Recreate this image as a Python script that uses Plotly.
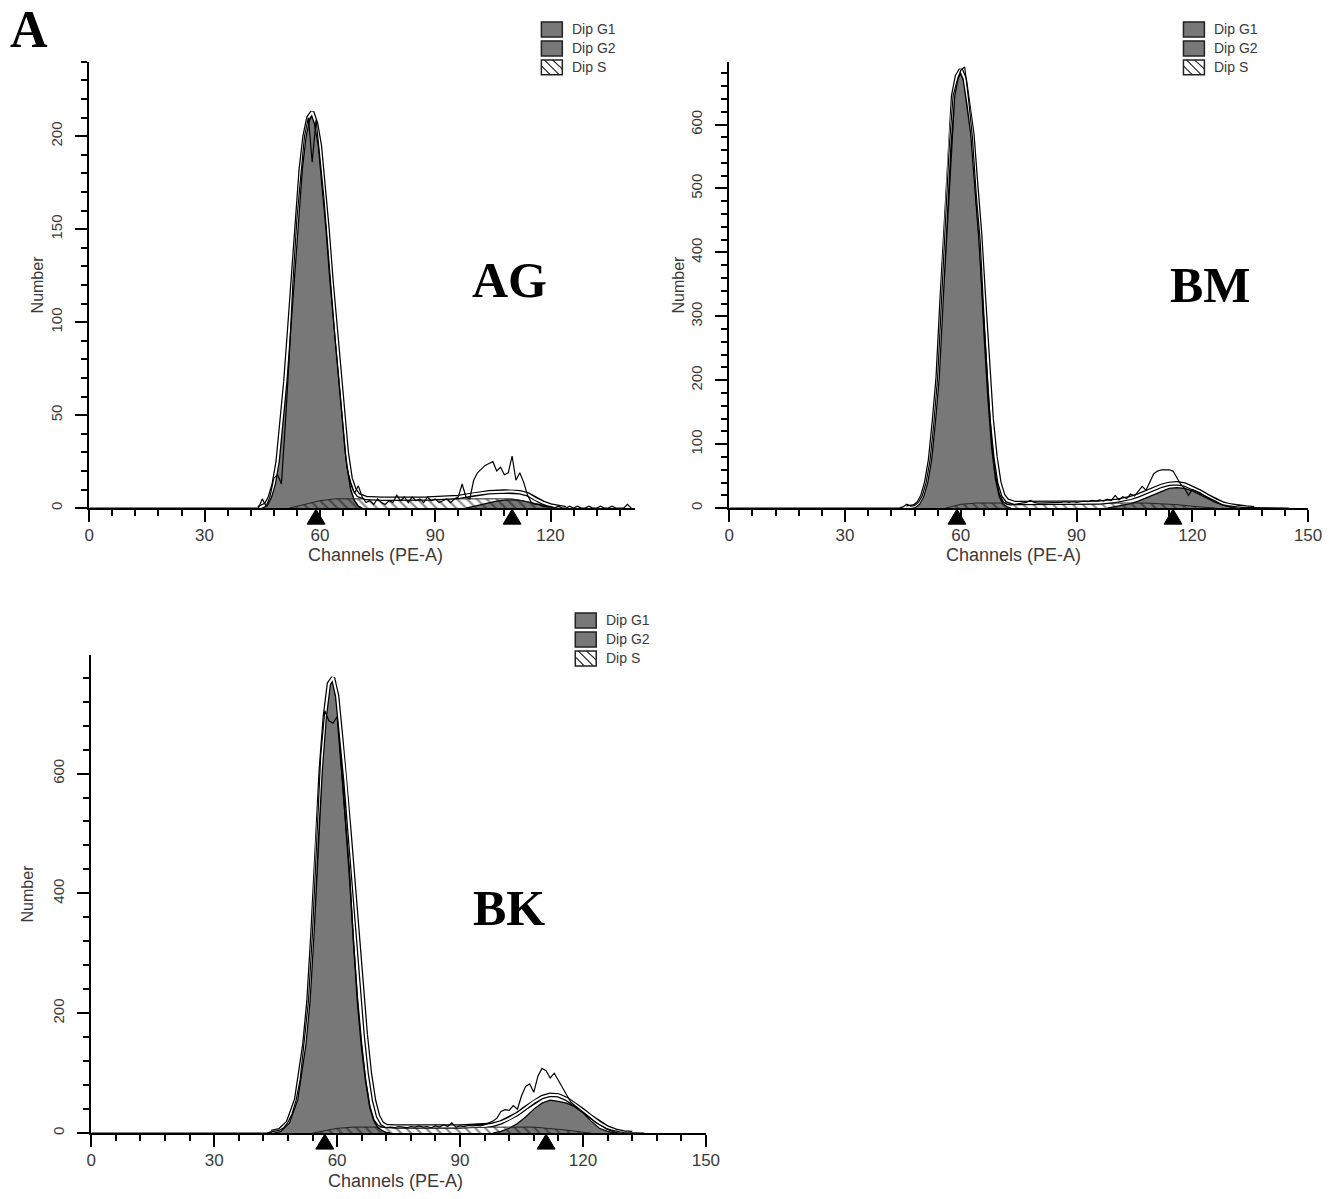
import plotly.graph_objects as go

W, H = 1341, 1199

# ---------------- data ----------------
# AG panel
ag_raw_ch = [0] + list(range(43, 142))
ag_raw = [0,
          0, 0, 5, 1, 6, 16, 18, 13, 45, 80,
          122, 155, 178, 200, 210, 186, 209, 190, 168, 142,
          115, 90, 68, 45, 22, 14, 8, 12, 6, 3,
          4, 2, 5, 3, 2, 4, 3, 7, 4, 6,
          3, 6, 4, 5, 3, 6, 4, 5, 3, 4,
          5, 3, 5, 6, 13, 6, 5, 15, 19, 21,
          23, 24, 25, 20, 22, 18, 19, 28, 15, 19,
          14, 7, 3, 2, 2, 1, 1, 1, 0, 1,
          0, 0, 1, 0, 1, 0, 0, 1, 0, 0,
          1, 0, 0, 1, 0, 0, 0, 2, 0]
ag_g1_ch = list(range(45, 72))
ag_g1 = [0, 2, 6, 13, 25, 45, 68, 95, 125, 155, 180, 198, 208, 211, 205, 192,
         170, 145, 118, 94, 70, 46, 24, 10, 4, 1, 0]
ag_g2_ch = [98, 100, 102, 104, 106, 108, 110, 112, 114, 116, 118, 120, 122]
ag_g2 = [0, 1, 2, 3, 3.8, 4.3, 4.5, 4.2, 3.5, 2.5, 1.5, 0.7, 0]
ag_s_ch = [52, 56, 60, 64, 110, 114, 118, 120]
ag_s = [0, 2, 4, 5, 5, 3.5, 1, 0]
ag_fit_ch = [44, 46] + list(range(47, 71)) + [72, 76, 88, 96, 100, 104, 108, 110,
                                               112, 114, 116, 118, 120, 122, 124]
ag_fit = [0, 2,
          6, 13, 25, 45, 68, 96, 126, 157, 182, 200, 210, 213, 207, 195, 174, 150,
          123, 99, 76, 52, 30, 16, 10, 7,
          5.5, 5, 5.2, 6, 7.5, 8.5, 9, 9, 8.5, 7.5, 5, 3, 1.5, 0.7, 0]
ag_peaks = [59, 110]

# BM panel
bm_raw_ch = [0] + list(range(44, 146))
bm_raw = [0,
          0, 2, 6, 3, 4, 9, 19, 40, 74, 132,
          205, 325, 435, 565, 645, 668, 685, 690, 640, 580,
          490, 420, 300, 190, 105, 52, 22, 10, 6, 5,
          6, 7, 8, 9, 12, 9, 8, 8, 9, 8,
          9, 8, 9, 10, 9, 10, 9, 10, 11, 10,
          12, 11, 13, 11, 14, 12, 20, 13, 18, 15,
          22, 19, 26, 34, 28, 42, 54, 58, 60, 60,
          60, 58, 48, 37, 31, 20, 29, 27, 24, 20,
          17, 13, 10, 7, 5, 4, 3, 2, 2, 1,
          1, 1, 0, 1, 0, 1, 0, 1, 0, 1,
          0, 0]
bm_g1_ch = list(range(47, 74))
bm_g1 = [0, 3, 8, 18, 38, 72, 130, 200, 320, 430, 560, 640, 670, 680, 665, 625,
         570, 480, 400, 275, 175, 95, 45, 18, 6, 2, 0]
bm_g2_ch = list(range(98, 136, 2))
bm_g2 = [0, 2, 4, 7, 11, 16, 22, 27, 31, 32, 31, 27, 21, 15, 9, 5, 2, 1, 0]
bm_s_ch = [56, 58, 60, 62, 64, 108, 112, 116, 120, 124, 126]
bm_s = [0, 3, 6, 7, 8, 8, 7, 5.5, 3, 1, 0]
bm_fit_ch = [46, 48] + list(range(49, 73)) + [74, 90, 96] + list(range(100, 138, 2))
bm_fit = [1, 3,
          8, 19, 40, 75, 135, 205, 325, 435, 565, 645, 676, 686, 672, 632, 585, 505,
          430, 330, 230, 140, 80, 40, 20, 12,
          8, 8.5, 9,
          11, 13, 16, 20, 25, 30, 35, 38, 39, 37, 32, 26, 19, 12, 7, 4, 2, 1, 0]
bm_peaks = [59, 115]

# BK panel
bk_raw_ch = [0] + list(range(43, 136))
bk_raw = [0,
          0, 2, 3, 5, 9, 18, 32, 55, 90, 150,
          220, 335, 480, 630, 705, 688, 684, 695, 610, 525,
          440, 320, 225, 150, 88, 45, 22, 13, 10, 9,
          10, 9, 11, 10, 9, 11, 10, 12, 10, 11,
          9, 12, 10, 14, 11, 17, 10, 12, 11, 13,
          12, 13, 12, 14, 17, 20, 25, 36, 39, 38,
          46, 40, 62, 78, 82, 68, 95, 108, 104, 92,
          100, 88, 75, 62, 52, 46, 41, 36, 30, 24,
          18, 14, 10, 7, 5, 3, 2, 1, 1, 0,
          0, 0, 0]
bk_g1_ch = list(range(43, 74))
bk_g1 = [0, 1, 3, 5, 9, 18, 32, 55, 90, 145, 215, 330, 480, 600, 690, 745, 755,
         715, 620, 530, 430, 320, 215, 140, 85, 42, 20, 9, 4, 1, 0]
bk_g2_ch = list(range(98, 130, 2))
bk_g2 = [0, 3, 8, 16, 27, 40, 50, 55, 53, 50, 44, 34, 20, 8, 3, 0]
bk_s_ch = [54, 56, 58, 60, 62, 64, 108, 112, 116, 120, 122]
bk_s = [0, 3, 6, 8, 9, 10, 10, 8, 5, 1.5, 0]
bk_fit_ch = [44, 46, 48, 50, 52] + list(range(53, 73)) + [74, 90, 96] + list(range(98, 134, 2))
bk_fit = [2, 5, 18, 56, 148,
          220, 335, 485, 605, 695, 750, 760, 730, 660, 590, 505, 420, 330, 245,
          165, 100, 55, 28, 16, 12,
          11, 11, 12,
          14, 18, 24, 32, 42, 52, 60, 64, 63, 57, 48, 38, 27, 17, 9, 4, 1, 0]
bk_peaks = [57, 111]

legend_labels = ["Dip G1", "Dip G2", "Dip S"]

# ---------------- styling / layout ----------------
GRAY = "#787878"
SANS = "Liberation Sans, Arial, sans-serif"
XTICKFONT = dict(family=SANS, size=17, color="#3a3a3a")
YTICKFONT = dict(family=SANS, size=15, color="#3a3a3a")
CHANFONT = dict(family=SANS, size=18, color="#3a3a3a")
NUMFONT = dict(family=SANS, size=16, color="#3a3a3a")
SERIF = dict(family="Liberation Serif, Times New Roman, serif", size=50, color="black")

# horizontal calibration of the rendered page (observed slight horizontal squeeze)
X_OFF, X_SCALE = 4.0, 0.9888


def pxx(x):
    return ((x - X_OFF) / X_SCALE) / W


def pyy(y):
    return 1 - y / H


panels = [
    dict(name="AG", xa="x", ya="y", raw=(ag_raw_ch, ag_raw), g1=(ag_g1_ch, ag_g1),
         g2=(ag_g2_ch, ag_g2), s=(ag_s_ch, ag_s), fit=(ag_fit_ch, ag_fit), peaks=ag_peaks,
         xdom=(88.5, 636), ydom=(509, 62), xr=[0, 142], yr=[0, 240], ydt=50, ymin=10,
         label=(510, 280), num=(37, 285), chan=(376, 556), leg=(542, 22)),
    dict(name="BM", xa="x2", ya="y2", raw=(bm_raw_ch, bm_raw), g1=(bm_g1_ch, bm_g1),
         g2=(bm_g2_ch, bm_g2), s=(bm_s_ch, bm_s), fit=(bm_fit_ch, bm_fit), peaks=bm_peaks,
         xdom=(730.5, 1311), ydom=(509, 62), xr=[0, 150], yr=[0, 698], ydt=100, ymin=20,
         label=(1213, 285), num=(680, 285), chan=(1016, 556), leg=(1186, 22)),
    dict(name="BK", xa="x3", ya="y3", raw=(bk_raw_ch, bk_raw), g1=(bk_g1_ch, bk_g1),
         g2=(bk_g2_ch, bk_g2), s=(bk_s_ch, bk_s), fit=(bk_fit_ch, bk_fit), peaks=bk_peaks,
         xdom=(90.5, 707), ydom=(1135, 656), xr=[0, 150], yr=[0, 798], ydt=200, ymin=40,
         label=(510, 910), num=(27, 895), chan=(396, 1183), leg=(576, 614)),
]

fig = go.Figure()
annotations = []
shapes = []
layout_axes = {}

for i, p in enumerate(panels):
    xa, ya = p["xa"], p["ya"]
    common = dict(xaxis=xa, yaxis=ya, showlegend=False, hoverinfo="skip")
    # G1
    fig.add_trace(go.Scatter(x=p["g1"][0], y=p["g1"][1], mode="lines", fill="tozeroy",
                             fillcolor=GRAY, line=dict(color="black", width=1.5), **common))
    # G2
    fig.add_trace(go.Scatter(x=p["g2"][0], y=p["g2"][1], mode="lines", fill="tozeroy",
                             fillcolor=GRAY, line=dict(color="black", width=1.2), **common))
    # S (hatched)
    fig.add_trace(go.Scatter(x=p["s"][0], y=p["s"][1], mode="lines", fill="tozeroy",
                             fillcolor="rgba(0,0,0,0)",
                             fillpattern=dict(shape="\\", fgcolor="#111111", size=7,
                                              solidity=0.3, fillmode="overlay"),
                             line=dict(color="#222222", width=1), **common))
    # total fit: white line with black border
    fig.add_trace(go.Scatter(x=p["fit"][0], y=p["fit"][1], mode="lines",
                             line=dict(color="black", width=4.5), **common))
    fig.add_trace(go.Scatter(x=p["fit"][0], y=p["fit"][1], mode="lines",
                             line=dict(color="white", width=2), **common))
    # raw histogram
    fig.add_trace(go.Scatter(x=p["raw"][0], y=p["raw"][1], mode="lines",
                             line=dict(color="black", width=1.2), **common))

    xk = "xaxis" if i == 0 else f"xaxis{i+1}"
    yk = "yaxis" if i == 0 else f"yaxis{i+1}"
    layout_axes[xk] = dict(
        domain=[pxx(p["xdom"][0]), pxx(p["xdom"][1])], range=p["xr"], anchor=ya,
        showline=True, linecolor="black", linewidth=2, mirror=False,
        ticks="outside", ticklen=12, tickwidth=1.5, tickcolor="black",
        tick0=0, dtick=30, tickfont=XTICKFONT, ticklabelstandoff=-2,
        minor=dict(ticks="outside", ticklen=6, tickwidth=1.5, tickcolor="black", tick0=0, dtick=6),
        showgrid=False, zeroline=False, fixedrange=True)
    layout_axes[yk] = dict(
        domain=[pyy(p["ydom"][0]), pyy(p["ydom"][1])], range=p["yr"], anchor=xa,
        showline=True, linecolor="black", linewidth=2, mirror=False,
        ticks="outside", ticklen=12, tickwidth=1.5, tickcolor="black",
        tick0=0, dtick=p["ydt"], tickfont=YTICKFONT, tickangle=-90, ticklabelstandoff=7,
        minor=dict(ticks="outside", ticklen=6, tickwidth=1.5, tickcolor="black", tick0=0,
                   dtick=p["ymin"]),
        showgrid=False, zeroline=False, fixedrange=True)

    # peak triangles (drawn just under the channel axis)
    for pk in p["peaks"]:
        shapes.append(dict(type="path", xref=xa, yref=ya + " domain",
                           xsizemode="pixel", ysizemode="pixel", xanchor=pk, yanchor=0,
                           path="M -9,-16 L 9,-16 L 0,-1 Z",
                           fillcolor="black", line=dict(color="black", width=1), layer="above"))
    # panel label
    annotations.append(dict(x=pxx(p["label"][0]), y=pyy(p["label"][1]), xref="paper", yref="paper",
                            text=f"<b>{p['name']}</b>", showarrow=False, font=SERIF,
                            xanchor="center", yanchor="middle"))
    # axis titles
    annotations.append(dict(x=pxx(p["num"][0]), y=pyy(p["num"][1]), xref="paper", yref="paper",
                            text="Number", textangle=-90, showarrow=False, font=NUMFONT,
                            xanchor="center", yanchor="middle"))
    annotations.append(dict(x=pxx(p["chan"][0]), y=pyy(p["chan"][1]), xref="paper", yref="paper",
                            text="Channels (PE-A)", showarrow=False, font=CHANFONT,
                            xanchor="center", yanchor="middle"))

    # legend
    lx, ly = p["leg"]
    bw, bh, gap = 21, 15, 19
    for k, lab in enumerate(legend_labels):
        y0 = ly + k * gap
        if k < 2:
            shapes.append(dict(type="rect", xref="paper", yref="paper",
                               x0=pxx(lx), x1=pxx(lx + bw), y0=pyy(y0), y1=pyy(y0 + bh),
                               fillcolor=GRAY, line=dict(color="#222222", width=1.5)))
        else:
            shapes.append(dict(type="rect", xref="paper", yref="paper",
                               x0=pxx(lx), x1=pxx(lx + bw), y0=pyy(y0), y1=pyy(y0 + bh),
                               fillcolor="white", line=dict(color="#222222", width=1.5)))
            for (ax0, ay0, ax1, ay1) in [(lx + 3, y0, lx + bw - 3, y0 + bh),
                                         (lx, y0 + 6, lx + 9, y0 + bh),
                                         (lx + 11, y0, lx + bw, y0 + 9)]:
                shapes.append(dict(type="line", xref="paper", yref="paper",
                                   x0=pxx(ax0), y0=pyy(ay0), x1=pxx(ax1), y1=pyy(ay1),
                                   line=dict(color="#222222", width=1.2)))
        annotations.append(dict(x=pxx(lx + bw + 8), y=pyy(y0 + bh / 2), xref="paper", yref="paper",
                                text=lab, showarrow=False, xanchor="left", yanchor="middle",
                                font=dict(family=SANS, size=14, color="#3a3a3a")))

# figure letter
annotations.append(dict(x=pxx(28.5), y=pyy(30), xref="paper", yref="paper", text="<b>A</b>",
                        showarrow=False, xanchor="center", yanchor="middle",
                        font=dict(family="Liberation Serif, Times New Roman, serif", size=52,
                                  color="black")))

fig.update_layout(
    width=W, height=H, autosize=False,
    margin=dict(l=0, r=0, t=0, b=0),
    paper_bgcolor="white", plot_bgcolor="white",
    annotations=annotations, shapes=shapes,
    **layout_axes,
)

fig.write_html("out.html", config={"displayModeBar": False},
               post_script=("document.documentElement.style.margin='0';"
                            "document.documentElement.style.padding='0';"
                            "document.documentElement.style.overflow='hidden';"
                            "document.body.style.margin='0';"
                            "document.body.style.padding='0';"
                            "document.body.style.overflow='hidden';"))
